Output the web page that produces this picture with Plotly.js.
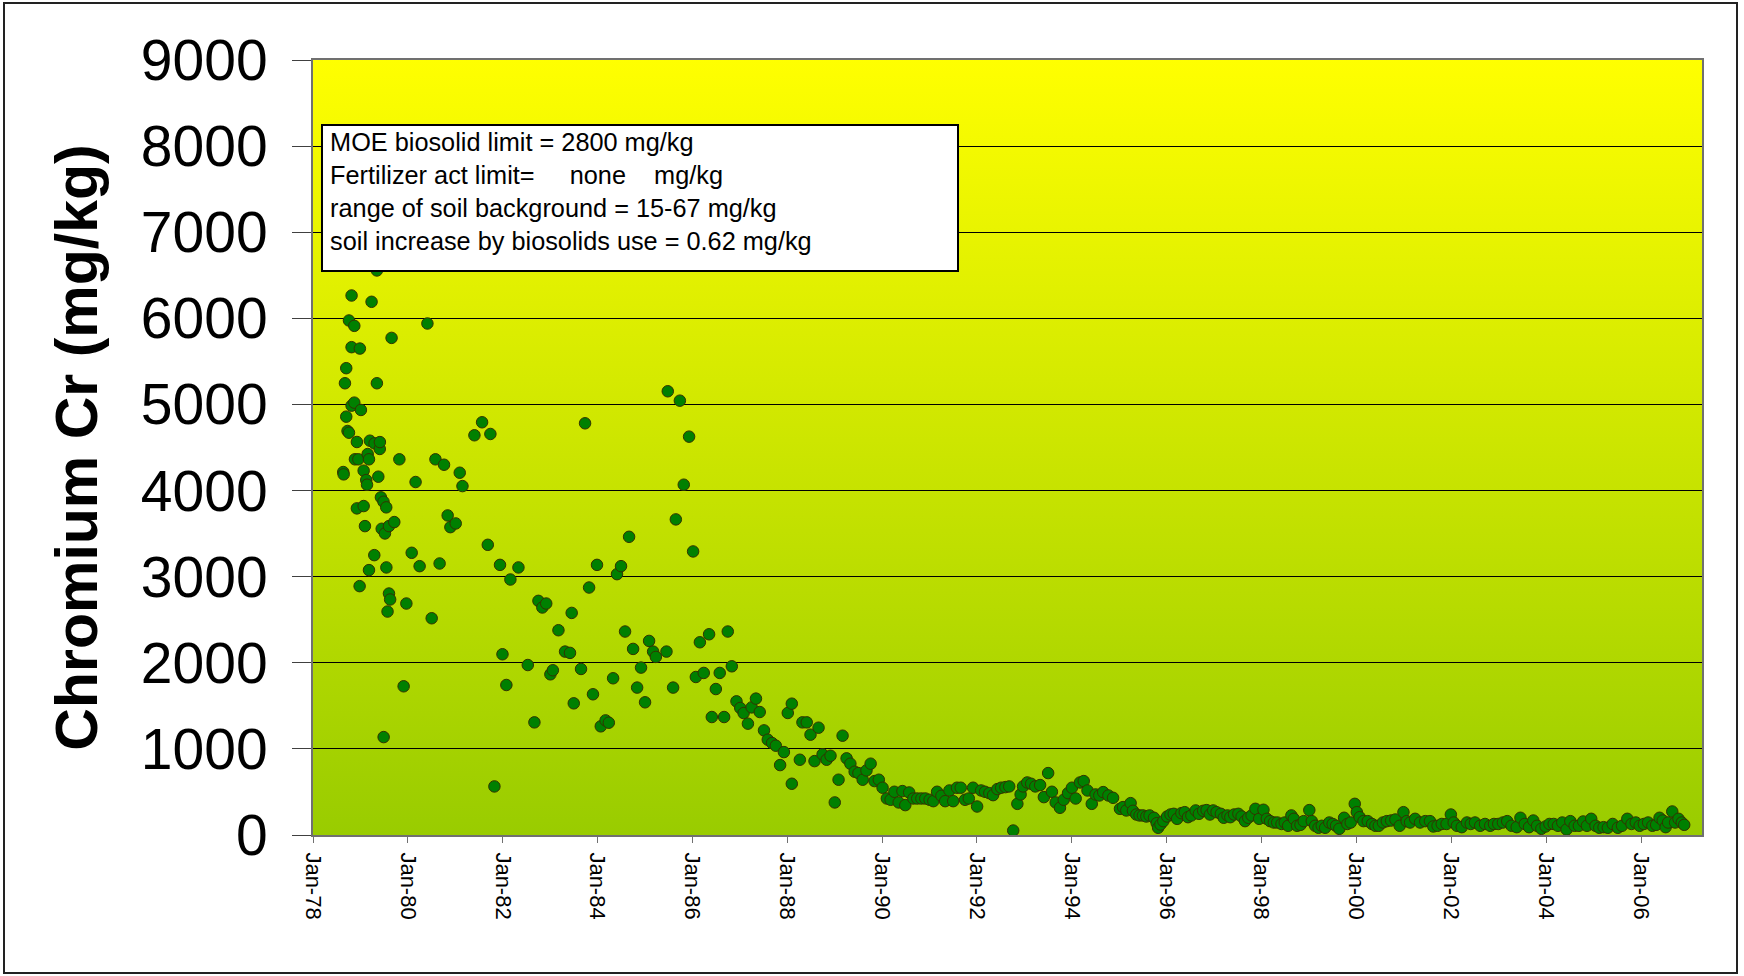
<!DOCTYPE html>
<html><head><meta charset="utf-8">
<script src="https://cdn.plot.ly/plotly-3.0.1.min.js"></script>
<style>
html,body{margin:0;padding:0;background:#fff;}
#chart{position:absolute;left:0;top:0;width:1744px;height:976px;}
#frame{position:absolute;left:3px;top:2px;width:1731px;height:968px;border:2px solid #222;pointer-events:none;}
</style>
</head><body>
<div id="chart"></div><div id="frame"></div>
<script>
// sampling time as decimal year
const sampleYear = [
1978.641,1978.648,1978.676,1978.704,1978.704,1978.730,1978.759,1978.760,1978.816,1978.816,1978.816,1978.873,1978.873,1978.887,1978.928,1978.928,1978.957,1978.985,1978.990,1979.012,
1979.069,1979.069,1979.097,1979.125,1979.140,1979.154,1979.181,1979.182,1979.202,1979.238,1979.294,1979.300,1979.350,1979.350,1979.379,1979.410,1979.413,1979.434,1979.450,1979.490,
1979.491,1979.520,1979.547,1979.548,1979.575,1979.603,1979.604,1979.630,1979.660,1979.717,1979.822,1979.913,1979.970,1980.082,1980.166,1980.250,1980.413,1980.504,1980.582,1980.672,
1980.763,1980.841,1980.898,1981.010,1981.094,1981.151,1981.404,1981.565,1981.685,1981.742,1981.826,1981.944,1981.995,1982.079,1982.164,1982.332,1982.529,1982.670,1982.754,1982.838,
1982.920,1983.007,1983.060,1983.176,1983.317,1983.420,1983.457,1983.500,1983.653,1983.737,1983.822,1983.906,1983.990,1984.070,1984.170,1984.240,1984.328,1984.410,1984.497,1984.581,
1984.665,1984.750,1984.834,1984.918,1985.000,1985.087,1985.170,1985.230,1985.454,1985.482,1985.593,1985.650,1985.735,1985.819,1985.931,1986.015,1986.072,1986.157,1986.240,1986.353,
1986.410,1986.494,1986.578,1986.670,1986.747,1986.831,1986.930,1987.010,1987.080,1987.170,1987.250,1987.340,1987.420,1987.510,1987.590,1987.680,1987.760,1987.850,1987.930,1988.013,
1988.097,1988.097,1988.266,1988.322,1988.410,1988.491,1988.576,1988.660,1988.745,1988.830,1988.910,1989.000,1989.082,1989.166,1989.250,1989.330,1989.420,1989.500,1989.590,1989.670,
1989.757,1989.840,1989.930,1990.010,1990.100,1990.180,1990.260,1990.350,1990.430,1990.490,1990.570,1990.660,1990.740,1990.830,1990.910,1991.000,1991.080,1991.160,1991.250,1991.330,
1991.420,1991.500,1991.580,1991.660,1991.750,1991.830,1991.920,1992.005,1992.090,1992.170,1992.260,1992.340,1992.430,1992.510,1992.600,1992.680,1992.765,1992.850,1992.920,1992.970,
1993.060,1993.140,1993.230,1993.330,1993.410,1993.500,1993.580,1993.660,1993.750,1993.830,1993.920,1994.000,1994.080,1994.170,1994.250,1994.330,1994.420,1994.500,1994.580,1994.663,
1994.770,1994.870,1995.015,1995.080,1995.150,1995.240,1995.290,1995.360,1995.430,1995.500,1995.570,1995.640,1995.733,1995.790,1995.820,1995.870,1995.930,1996.010,1996.080,1996.150,
1996.220,1996.310,1996.380,1996.450,1996.520,1996.610,1996.680,1996.770,1996.840,1996.910,1996.980,1997.050,1997.140,1997.200,1997.280,1997.340,1997.420,1997.510,1997.580,1997.650,
1997.720,1997.790,1997.869,1997.950,1998.040,1998.110,1998.180,1998.260,1998.330,1998.420,1998.490,1998.560,1998.630,1998.680,1998.750,1998.820,1998.890,1999.008,1999.060,1999.130,
1999.200,1999.270,1999.340,1999.430,1999.500,1999.570,1999.640,1999.740,1999.810,1999.880,1999.966,2000.010,2000.070,2000.150,2000.240,2000.330,2000.400,2000.470,2000.560,2000.640,
2000.730,2000.820,2000.910,2000.990,2001.060,2001.130,2001.238,2001.340,2001.450,2001.550,2001.620,2001.710,2001.800,2001.900,2001.990,2002.050,2002.120,2002.220,2002.330,2002.410,
2002.500,2002.610,2002.710,2002.820,2002.900,2002.990,2003.090,2003.180,2003.270,2003.380,2003.460,2003.550,2003.640,2003.730,2003.810,2003.900,2003.990,2004.070,2004.160,2004.250,
2004.340,2004.430,2004.510,2004.600,2004.690,2004.780,2004.860,2004.950,2005.040,2005.120,2005.210,2005.300,2005.400,2005.510,2005.600,2005.710,2005.800,2005.890,2005.970,2006.060,
2006.150,2006.240,2006.320,2006.390,2006.460,2006.520,2006.570,2006.658,2006.720,2006.790,2006.860,2006.910
];
// chromium concentration, mg/kg
const chromium = [
4215,4188,5246,5421,4858,4692,5975,4672,6265,5665,4986,5913,5021,4363,4564,3793,4363,2890,5649,4936,
4231,3820,3587,4122,4068,4424,3076,4363,4579,6192,3250,4548,6556,5246,4161,4483,4563,3921,3556,3870,
1137,3502,3805,3107,2595,2804,3587,2735,5773,3634,4363,1727,2688,3277,4099,3122,5940,2517,4363,3153,
4300,3711,3575,3618,4207,4052,4642,4793,3370,4657,564,3137,2099,1742,2967,3107,1974,1308,2719,2642,
2688,1866,1913,2378,2130,2115,2579,1529,1928,4781,2874,1634,3137,1262,1331,1304,1820,3029,3122,2363,
3463,2161,1712,1944,1541,2254,2130,2068,2130,5153,1712,3665,5044,4068,4626,3293,1835,2238,1882,2331,
1370,1695,1882,1370,2363,1959,1552,1475,1416,1293,1482,1584,1428,1215,1107,1068,1037,812,963,1417,
1525,595,874,1308,1308,1165,858,1246,936,874,920,378,642,1153,890,828,735,719,642,750,
828,626,642,549,424,409,502,378,510,347,494,424,424,424,424,409,393,502,455,393,
517,393,549,549,409,424,549,331,517,502,486,463,533,549,556,564,52,362,471,564,
610,595,564,580,440,719,502,378,316,409,486,549,424,610,626,517,362,471,459,498,
459,432,304,324,285,370,281,238,227,227,215,227,200,137,84,122,161,215,238,246,
188,254,265,207,227,285,246,281,289,238,285,265,246,200,227,207,238,246,215,161,
200,227,304,188,293,188,161,145,145,128,145,107,227,188,107,118,161,289,161,107,
84,107,84,145,128,107,72,200,128,145,362,265,207,161,161,128,107,107,145,161,
168,180,107,265,161,145,188,145,161,161,99,107,128,128,238,145,107,91,145,128,
145,107,128,107,128,128,145,161,107,91,200,128,91,168,107,72,99,128,128,107,
145,64,161,107,107,157,107,188,107,84,91,84,128,84,107,188,128,145,107,128,
145,107,118,200,168,91,145,273,145,188,145,118
];
const yTickVals = [0,1000,2000,3000,4000,5000,6000,7000,8000,9000];
const boxLines = [
  "MOE biosolid limit = 2800 mg/kg",
  "Fertilizer act limit=\u00a0\u00a0\u00a0\u00a0\u00a0none\u00a0\u00a0\u00a0\u00a0mg/kg",
  "range of soil background = 15-67 mg/kg",
  "soil increase by biosolids use = 0.62 mg/kg"
];

function yearToDate(y){
  const yr = Math.floor(y);
  const a = Date.UTC(yr,0,1), b = Date.UTC(yr+1,0,1);
  return new Date(a + (y-yr)*(b-a)).toISOString().slice(0,10);
}

const FONT = "Liberation Sans, Arial, sans-serif";
const grad = 'data:image/svg+xml;utf8,' + encodeURIComponent(
 '<svg xmlns="http://www.w3.org/2000/svg" width="100" height="100" preserveAspectRatio="none">' +
 '<defs><linearGradient id="g" x1="0" y1="0" x2="0" y2="1">' +
 '<stop offset="0" stop-color="#FFFF00"/><stop offset="1" stop-color="#99CC00"/></linearGradient></defs>' +
 '<rect width="100" height="100" fill="url(#g)"/></svg>');

const trace = {
  type: 'scatter', mode: 'markers',
  x: sampleYear.map(yearToDate), y: chromium,
  marker: {color: '#008000', size: 11.5, line: {color: '#333300', width: 1}},
  hoverinfo: 'x+y'
};

const layout = {
  width: 1744, height: 976,
  margin: {l: 313, r: 42, t: 60, b: 141},
  paper_bgcolor: '#ffffff',
  plot_bgcolor: 'rgba(0,0,0,0)',
  showlegend: false,
  font: {family: FONT, color: '#000'},
  images: [{source: grad, xref: 'paper', yref: 'paper', x: 0, y: 1, sizex: 1, sizey: 1,
            sizing: 'stretch', xanchor: 'left', yanchor: 'top', layer: 'below'}],
  xaxis: {
    type: 'date', range: ['1978-01-01', '2007-04-15'],
    tick0: '1978-01-01', dtick: 'M24', tickformat: '%b-%y',
    tickangle: 90, tickfont: {size: 22, family: FONT, color: '#000'},
    ticks: 'outside', ticklen: 6, tickwidth: 1, tickcolor: '#707070',
    ticklabelstandoff: 5,
    showgrid: false, zeroline: false,
    showline: true, linecolor: '#707070', linewidth: 2, mirror: true
  },
  yaxis: {
    range: [0, 9000], tickvals: yTickVals,
    tickfont: {size: 57, family: FONT, color: '#000'},
    ticks: 'outside', ticklen: 19, tickwidth: 1, tickcolor: '#404040',
    ticklabelstandoff: 13,
    showgrid: true, gridcolor: '#000000', gridwidth: 1,
    zeroline: false,
    showline: true, linecolor: '#707070', linewidth: 2, mirror: true,
    title: {text: 'Chromium Cr (mg/kg)', font: {size: 59, family: FONT, color: '#000', weight: 'bold'}, standoff: 24}
  },
  annotations: [{
    xref: 'paper', yref: 'paper', x: 0.0059, y: 0.918, xanchor: 'left', yanchor: 'top',
    text: boxLines.map(s => '\u2009' + s).join('<br>'), align: 'left', valign: 'top',
    showarrow: false, bgcolor: '#ffffff', bordercolor: '#000000', borderwidth: 2, borderpad: 2,
    width: 630, height: 140,
    font: {size: 25.3, family: FONT, color: '#000'}
  }]
};

Plotly.newPlot('chart', [trace], layout, {displayModeBar: false, staticPlot: true});
</script>
</body></html>
